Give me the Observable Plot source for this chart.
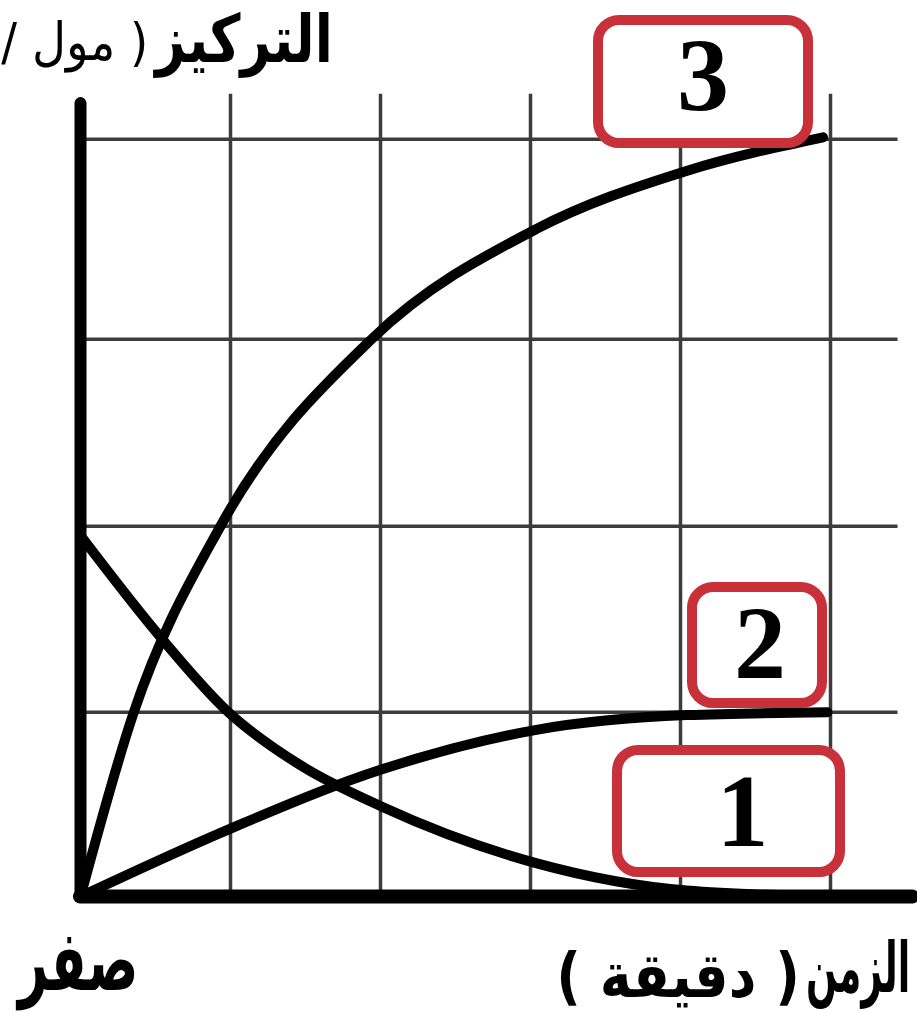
<!DOCTYPE html>
<html>
<head>
<meta charset="utf-8">
<script src="https://cdn.jsdelivr.net/npm/d3@7"></script>
<script src="https://cdn.jsdelivr.net/npm/@observablehq/plot@0.6"></script>
<style>
  html, body { margin: 0; padding: 0; background: #fff; }
  #wrap { position: relative; width: 917px; height: 1013px; overflow: hidden; background: #fff; }
  #wrap svg { position: absolute; left: 0; top: 0; }
  .txt { position: absolute; white-space: nowrap; font-family: "DejaVu Sans", sans-serif; font-weight: bold; color: #000; line-height: normal; }
  .box { position: absolute; box-sizing: border-box; border: 10px solid #c8303a; border-radius: 26px; background: #fff;
         display: flex; align-items: center; justify-content: center;
         font-family: "Liberation Serif", serif; font-weight: bold; font-size: 104px; line-height: 1; color: #000; }
</style>
</head>
<body>
<div id="wrap"></div>
<script>
// ---- data ----
// time in grid units (minutes), concentration in grid units
const time1 = [0, 0.53, 0.98, 1.47, 2.01, 3.03, 4.04, 5.0];
const conc1 = [1.93, 1.39, 0.99, 0.70, 0.48, 0.18, 0.032, 0.0];

const time2 = [0, 1.02, 2.01, 3.03, 4.04, 4.98];
const conc2 = [0, 0.37, 0.68, 0.89, 0.97, 0.985];

const time3 = [0, 0.353, 0.933, 1.94, 3.04, 4.04, 4.95];
const conc3 = [0, 0.98, 1.98, 2.98, 3.57, 3.88, 4.06];

const seriesNames = ["1", "2", "3"];
const xGrid = [1, 2, 3, 4, 5];            // vertical grid lines
const yGrid = [0.985, 1.98, 2.98, 4.05];  // horizontal grid lines
const gridRight = 5.45;   // extent of horizontal grid lines
const gridTop = 4.29;     // extent of vertical grid lines
const axisTop = 4.24;
const axisRight = 5.55;

const title = "التركيز";
const titleUnit = "( مول /";
const zeroLabel = "صفر";
const xTitle = "الزمن";
const xUnit = "( دقيقة )";

// ---- build table ----
const seriesTimes = [time1, time2, time3];
const seriesConcs = [conc1, conc2, conc3];
const rows = [];
seriesNames.forEach((name, i) => {
  seriesTimes[i].forEach((t, j) => rows.push({series: name, time: t, conc: seriesConcs[i][j]}));
});

const chart = Plot.plot({
  width: 917,
  height: 1013,
  margin: 0,
  x: {domain: [0, axisRight], range: [80, 80 + axisRight * 150], axis: null},
  y: {domain: [0, 4.3], range: [896, 896 - 4.3 * 187], axis: null},
  marks: [
    Plot.ruleY(yGrid, {x1: 0, x2: gridRight, stroke: "#3c3c3c", strokeWidth: 3.5}),
    Plot.ruleX(xGrid, {y1: 0, y2: gridTop, stroke: "#3c3c3c", strokeWidth: 3.5}),
    Plot.ruleX([0], {y1: 0, y2: axisTop, stroke: "#000", strokeWidth: 12, strokeLinecap: "round"}),
    Plot.ruleY([0], {x1: 0, x2: axisRight, stroke: "#000", strokeWidth: 14, strokeLinecap: "round"}),
    Plot.line(rows, {x: "time", y: "conc", z: "series", curve: "monotone-x",
      stroke: "#000", strokeWidth: 10, strokeLinecap: "round", strokeLinejoin: "round"})
  ]
});

const wrap = document.getElementById("wrap");
wrap.appendChild(chart);

// ---- label boxes (layout only) ----
const boxLayout = {
  "3": {left: 593, top: 15, width: 220, height: 133, padL: 0, padB: 14},
  "2": {left: 687, top: 582, width: 140, height: 126, padL: 6, padB: 4},
  "1": {left: 612, top: 745, width: 233, height: 132, padL: 28, padB: 0}
};
seriesNames.forEach(name => {
  const b = boxLayout[name];
  const d = document.createElement("div");
  d.className = "box";
  Object.assign(d.style, {left: b.left + "px", top: b.top + "px", width: b.width + "px", height: b.height + "px",
    paddingLeft: b.padL + "px", paddingBottom: b.padB + "px"});
  d.textContent = name;
  wrap.appendChild(d);
});

// ---- texts (layout only) ----
function addText(text, style, size, weight, sx, origin) {
  const d = document.createElement("div");
  d.className = "txt";
  d.dir = "rtl";
  d.textContent = text;
  Object.assign(d.style, style, {fontSize: size + "px", fontWeight: weight,
    transform: `scaleX(${sx})`, transformOrigin: origin});
  wrap.appendChild(d);
}
addText(title, {right: "584px", top: "1px"}, 66, "bold", 0.8, "right center");
addText(titleUnit, {right: "769px", top: "12px"}, 52, "normal", 0.9, "right center");
addText(zeroLabel, {left: "18px", top: "912px"}, 84, "bold", 0.62, "left center");
addText(xTitle, {right: "7px", top: "927px"}, 70, "bold", 0.52, "right center");
addText(xUnit, {right: "117px", top: "939px"}, 62, "bold", 0.87, "right center");
</script>
</body>
</html>
